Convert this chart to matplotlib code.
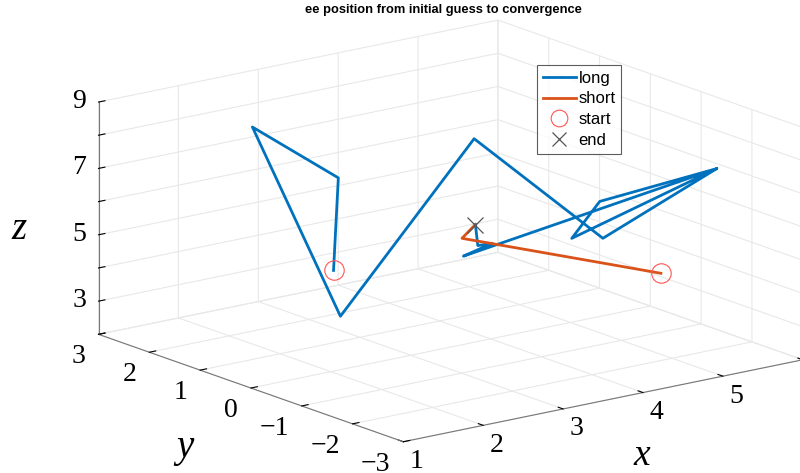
import numpy as np
import matplotlib.pyplot as plt
from matplotlib.lines import Line2D

# ee position per iteration, long run
long_x = [2.67, 2.73, 2.29, 2.12, 4.43, 4.77, 5.56, 4.38, 4.73, 5.56, 3.66, 4.02, 3.84, 3.81]
long_y = [1, 1, 2, 0, 1, -1, -2, -1, -1, -2, 0, 0, 0, 0]
long_z = [4.18, 6.94, 8.15, 3.61, 7.28, 5.19, 7.44, 5.38, 6.32, 7.44, 4.66, 4.87, 4.89, 5.54]

# short run
short_x = [4.86, 3.96, 3.81]
short_y = [-2, 0.5, 0]
short_z = [4.63, 4.78, 5.54]

x_ticks = [1, 2, 3, 4, 5, 6]
y_ticks = [-3, -2, -1, 0, 1, 2, 3]
z_ticks = [2, 3, 4, 5, 6, 7, 8, 9]

blue = '#0072BD'
orange = '#D95319'
serif = ['Liberation Serif', 'DejaVu Serif']

fig = plt.figure(figsize=(8, 4.73), dpi=100)
ax = fig.add_axes([-0.219, -0.279, 1.54, 1.54], projection='3d', proj_type='ortho')
ax.view_init(elev=15.6, azim=-127.35)
ax.set_box_aspect((1, 1, 0.48))

ax.plot(long_x, long_y, long_z, color=blue, lw=2)
ax.plot(short_x, short_y, short_z, color=orange, lw=2)
ax.plot([long_x[0], short_x[0]], [long_y[0], short_y[0]], [long_z[0], short_z[0]],
        'o', mfc='none', mec='#ff5555', ms=14, mew=0.8)
ax.plot([long_x[-1]], [long_y[-1]], [long_z[-1]], 'x', color='#555555', ms=12, mew=0.9)

ax.set_xlim(1, 6)
ax.set_ylim(-3, 3)
ax.set_zlim(2, 9)
ax.set_xticks(x_ticks)
ax.set_yticks(y_ticks)
ax.set_zticks(z_ticks)
ax.set_xticklabels([str(v) for v in x_ticks], ha='left')
ax.set_yticklabels([str(v).replace('-', '\u2212') for v in y_ticks], ha='right')
ax.set_zticklabels([str(v) if v % 2 else '' for v in z_ticks], va='center')
for lab in ax.get_xticklabels() + ax.get_yticklabels() + ax.get_zticklabels():
    lab.set_fontfamily(serif)
    lab.set_fontsize(20)

ax.tick_params(axis='x', pad=-2)
ax.tick_params(axis='y', pad=0.8)
ax.tick_params(axis='z', pad=-0.5)

for axis in (ax.xaxis, ax.yaxis, ax.zaxis):
    axis.set_pane_color((1, 1, 1, 0))
    axis.pane.set_edgecolor('#e3e3e3')
    axis._axinfo['grid']['color'] = '#e8e8e8'
    axis._axinfo['grid']['linewidth'] = 0.8
    axis.line.set_color('#777777')
    axis._axinfo['tick']['inward_factor'] = 0.0
    axis._axinfo['tick']['outward_factor'] = 0.2
    axis._axinfo['tick']['color'] = '#777777'

# axis names
fig.text(0.024, 0.4947, 'z', fontsize=28, fontstyle='italic', family=serif,
         ha='center', va='baseline')
fig.text(0.231, 0.034, 'y', fontsize=28, fontstyle='italic', family=serif,
         ha='center', va='baseline')
fig.text(0.8025, 0.001, 'x', fontsize=27, fontstyle='italic', family=serif,
         ha='center', va='bottom')

fig.text(0.554, 0.978, 'ee position from initial guess to convergence', fontsize=9.3,
         fontweight='bold', ha='center', va='center',
         family=['Liberation Sans', 'DejaVu Sans'])

handles = [Line2D([], [], color=blue, lw=2),
           Line2D([], [], color=orange, lw=2),
           Line2D([], [], ls='none', marker='o', mfc='none', mec='#ff5555', ms=12, mew=0.8),
           Line2D([], [], ls='none', marker='x', color='#555555', ms=10, mew=0.9)]
leg = ax.legend(handles, ['long', 'short', 'start', 'end'], loc='upper left',
                bbox_to_anchor=(0.671, 0.863), bbox_transform=fig.transFigure,
                fancybox=False, edgecolor='#333333', handlelength=2.0,
                handletextpad=0.15, borderpad=0.35, labelspacing=0.35, borderaxespad=0,
                prop={'family': 'Liberation Sans', 'size': 12})
leg.get_frame().set_linewidth(0.8)

fig.savefig('out.png', dpi=100)
